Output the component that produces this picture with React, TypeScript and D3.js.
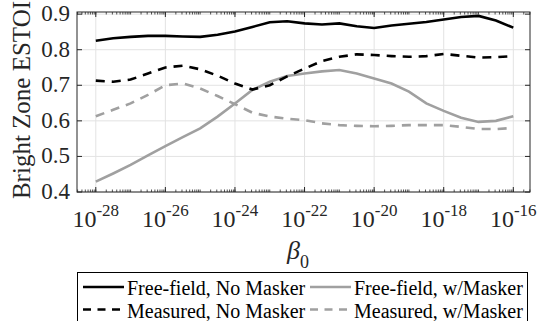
import React from 'react';
import * as d3 from 'd3';

// beta_0 exponents (10^e) where the curves were sampled
const exponents = [-28, -27.5, -27, -26.5, -26, -25.5, -25, -24.5, -24, -23.5, -23, -22.5, -22,
  -21.5, -21, -20.5, -20, -19.5, -19, -18.5, -18, -17.5, -17, -16.5, -16];

const freeNoMasker = [0.825, 0.832, 0.836, 0.839, 0.839, 0.837, 0.836, 0.842, 0.851, 0.864, 0.877,
  0.880, 0.874, 0.871, 0.874, 0.866, 0.861, 0.868, 0.873, 0.878, 0.885, 0.892, 0.895, 0.882, 0.862];
const freeMasker = [0.429, 0.452, 0.476, 0.503, 0.529, 0.554, 0.579, 0.612, 0.649, 0.687, 0.710,
  0.726, 0.733, 0.739, 0.743, 0.733, 0.719, 0.705, 0.682, 0.649, 0.628, 0.609, 0.597, 0.600, 0.613];
const measNoMasker = [0.713, 0.710, 0.716, 0.733, 0.750, 0.755, 0.745, 0.727, 0.705, 0.688, 0.700,
  0.725, 0.747, 0.768, 0.780, 0.787, 0.785, 0.782, 0.780, 0.782, 0.788, 0.783, 0.778, 0.779, 0.782];
const measMasker = [0.613, 0.631, 0.649, 0.673, 0.700, 0.705, 0.691, 0.670, 0.647, 0.623, 0.612,
  0.606, 0.602, 0.593, 0.588, 0.586, 0.585, 0.586, 0.588, 0.588, 0.588, 0.583, 0.577, 0.577, 0.580];

const xTickExps = [-28, -26, -24, -22, -20, -18, -16];
const yTicks = [0.4, 0.5, 0.6, 0.7, 0.8, 0.9];

const seriesNames = ['Free-field, No Masker', 'Free-field, w/Masker', 'Measured, No Masker', 'Measured, w/Masker'];

const W = 541, H = 321;
const left = 77, right = 530, top = 12, bottom = 192;
const FONT = "'Liberation Serif', 'Times New Roman', serif";
const AX = '#262626';
const GREY = '#a0a0a0';

export default function App() {
  const x = d3.scaleLog().domain([Math.pow(10, -28.54), Math.pow(10, -15.52)]).range([left, right]);
  const y = d3.scaleLinear().domain([0.4, 0.906]).range([bottom, top]);

  const line = d3.line<[number, number]>()
    .x(d => x(Math.pow(10, d[0])))
    .y(d => y(d[1]))
    .curve(d3.curveLinear);

  const series = [
    { name: seriesNames[0], vals: freeNoMasker, color: '#000', dash: undefined },
    { name: seriesNames[1], vals: freeMasker, color: GREY, dash: undefined },
    { name: seriesNames[2], vals: measNoMasker, color: '#000', dash: '9,7' },
    { name: seriesNames[3], vals: measMasker, color: GREY, dash: '9,7' },
  ];

  // log minor ticks: k*10^n inside the domain
  const [d0, d1] = x.domain();
  const minor: number[] = [];
  for (let n = -29; n <= -15; n++) {
    for (let k = 1; k < 10; k++) {
      const v = k * Math.pow(10, n);
      if (v >= d0 && v <= d1) minor.push(v);
    }
  }

  return (
    <svg width={W} height={H} style={{ position: 'absolute', left: 0, top: 0, fontFamily: FONT }}>
      <rect width={W} height={H} fill="#fff" />
      {/* grid */}
      {xTickExps.map(e => (
        <line key={'gx' + e} x1={x(Math.pow(10, e))} x2={x(Math.pow(10, e))} y1={top} y2={bottom}
          stroke="#e3e3e3" strokeWidth={1} />
      ))}
      {yTicks.map(v => (
        <line key={'gy' + v} x1={left} x2={right} y1={y(v)} y2={y(v)} stroke="#e3e3e3" strokeWidth={1} />
      ))}

      {/* curves */}
      {series.map(s => (
        <path key={s.name} d={line(exponents.map((e, i) => [e, s.vals[i]] as [number, number])) || ''}
          fill="none" stroke={s.color} strokeWidth={2.6} strokeDasharray={s.dash} />
      ))}

      {/* box */}
      <rect x={left} y={top} width={right - left} height={bottom - top} fill="none" stroke={AX} strokeWidth={1} />

      {/* x ticks */}
      {minor.map((v, i) => (
        <g key={'mx' + i} stroke={AX} strokeWidth={0.8}>
          <line x1={x(v)} x2={x(v)} y1={bottom} y2={bottom - 2.5} />
          <line x1={x(v)} x2={x(v)} y1={top} y2={top + 2.5} />
        </g>
      ))}
      {xTickExps.map(e => (
        <g key={'tx' + e} stroke={AX} strokeWidth={1}>
          <line x1={x(Math.pow(10, e))} x2={x(Math.pow(10, e))} y1={bottom} y2={bottom - 5} />
          <line x1={x(Math.pow(10, e))} x2={x(Math.pow(10, e))} y1={top} y2={top + 5} />
        </g>
      ))}
      {xTickExps.map(e => (
        <text key={'lx' + e} x={x(Math.pow(10, e))} y={227} textAnchor="middle" fill={AX} fontSize={24}>
          10<tspan fontSize={17} dy={-11}>{String(e)}</tspan>
        </text>
      ))}

      {/* y ticks */}
      {yTicks.map(v => (
        <g key={'ty' + v} stroke={AX} strokeWidth={1}>
          <line x1={left} x2={left + 5} y1={y(v)} y2={y(v)} />
          <line x1={right} x2={right - 5} y1={y(v)} y2={y(v)} />
        </g>
      ))}
      {yTicks.map(v => (
        <text key={'ly' + v} x={70} y={y(v) + 7} textAnchor="end" fill={AX} fontSize={23}>
          {d3.format('.1f')(v)}
        </text>
      ))}

      {/* axis labels */}
      <text transform="translate(30,100) rotate(-90)" textAnchor="middle" fill={AX} fontSize={25}>
        Bright Zone ESTOI
      </text>
      <text x={287} y={259} fill={AX} fontSize={26} fontStyle="italic">
        β<tspan fontStyle="normal" fontSize={18} dy={9}>0</tspan>
      </text>

      {/* legend */}
      <rect x={77.5} y={272.5} width={450} height={52} fill="#fff" stroke="#000" strokeWidth={1} />
      {series.map((s, i) => {
        const col = i % 2, row = Math.floor(i / 2);
        const lx = col === 0 ? 83 : 310;
        const ly = row === 0 ? 287 : 309.5;
        return (
          <g key={'lg' + i}>
            <line x1={lx} x2={lx + 41} y1={ly} y2={ly} stroke={s.color} strokeWidth={2.6}
              strokeDasharray={s.dash ? '8,6.5' : undefined} />
            <text x={lx + 44} y={ly + 8.3} fill="#000" fontSize={20}>{s.name}</text>
          </g>
        );
      })}
    </svg>
  );
}
